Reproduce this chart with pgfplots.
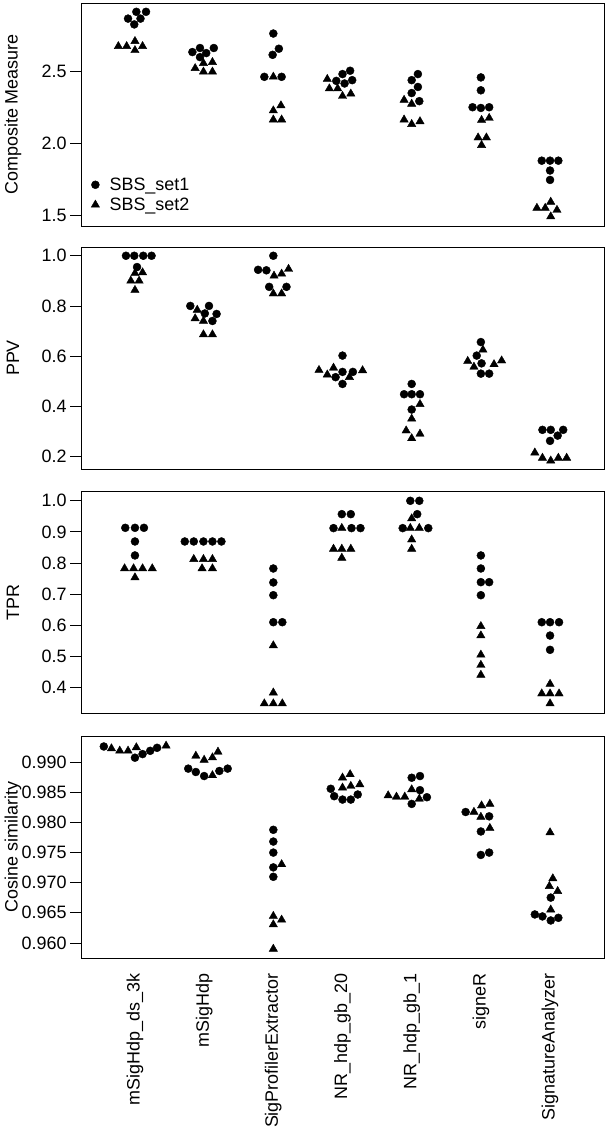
\documentclass[border=0pt]{standalone}
\usepackage{fontspec}
\setmainfont{Liberation Sans}
\usepackage{pgfplots}
\pgfplotsset{compat=1.18}

\pgfplotsset{
  panel/.style={
    scale only axis, width=523bp, height=222bp,
    xmin=0.22, xmax=7.78, xtick=\empty,
    ytick pos=left, tick align=outside, major tick length=11bp,
    axis line style={line width=0.8bp},
    every tick/.style={black, line width=0.8bp},
    tick label style={font=\fontsize{18}{20}\selectfont},
    label style={font=\fontsize{18}{20}\selectfont},
    ylabel style={at={([xshift=-68bp]axis description cs:0,0.5)}, anchor=center},
    yticklabel style={/pgf/number format/fixed, /pgf/number format/fixed zerofill,
      /pgf/number format/precision=1, /pgf/number format/assume math mode=true},
    anchor=south west,
  },
  set1/.style={only marks, mark=*, mark size=4bp, black},
  set2/.style={only marks, mark=triangle*, mark size=4.8bp, black},
}

\begin{document}
\begin{tikzpicture}[x=1bp,y=1bp]
\useasboundingbox (0,0) rectangle (608,1131);

% Composite Measure
\begin{axis}[panel, at={(81bp,905bp)}, height=223bp,
  ymin=1.43, ymax=2.97, ytick={1.5,2,2.5}, ylabel={Composite Measure},
  legend cell align=left,
  legend style={draw=none, fill=none, at={(axis description cs:0,0)}, anchor=south west,
    xshift=6bp, yshift=10bp, font=\fontsize{18}{20}\selectfont, row sep=2bp},
  legend image code/.code={\draw[mark repeat=2,mark phase=2] plot coordinates {(0bp,0bp)(5bp,0bp)(10bp,0bp)}; \path (0bp,0bp) (17bp,0bp);}]
\addplot[set1] coordinates {
(1.16,2.909)(1.02,2.909)(0.90,2.862)(1.08,2.862)(0.99,2.822)
(1.83,2.631)(1.94,2.659)(2.03,2.624)(2.14,2.659)(1.94,2.596)
(3.00,2.759)(3.08,2.654)(2.99,2.612)(2.87,2.460)(3.12,2.460)
(4.00,2.479)(4.11,2.502)(3.91,2.432)(4.03,2.414)(4.14,2.437)
(5.09,2.479)(5.00,2.437)(5.09,2.390)(5.00,2.348)(5.11,2.292)
(6.00,2.456)(6.00,2.367)(5.88,2.250)(6.00,2.245)(6.12,2.250)
(6.88,1.881)(7.00,1.881)(7.12,1.881)(7.00,1.813)(7.00,1.748)};
\addplot[set2] coordinates {
(0.76,2.671)(0.88,2.671)(1.00,2.706)(1.00,2.643)(1.11,2.671)
(1.87,2.519)(1.99,2.554)(2.12,2.561)(1.99,2.495)(2.12,2.495)
(3.00,2.460)(3.11,2.262)(3.00,2.227)(3.00,2.164)(3.12,2.164)
(3.78,2.444)(3.81,2.379)(3.93,2.379)(4.00,2.327)(4.12,2.343)
(4.89,2.300)(5.00,2.273)(4.89,2.164)(5.00,2.133)(5.12,2.152)
(6.01,2.161)(6.12,2.175)(5.96,2.040)(6.08,2.040)(6.01,1.988)
(6.81,1.554)(6.93,1.554)(7.01,1.596)(7.10,1.540)(7.01,1.495)};
\legend{SBS\_set1, SBS\_set2}
\end{axis}

% PPV
\begin{axis}[panel, at={(81bp,662bp)},
  ymin=0.15, ymax=1.035, ytick={0.2,0.4,0.6,0.8,1.0}, ylabel={PPV}]
\addplot[set1] coordinates {
(0.87,1.000)(0.99,1.000)(1.12,1.000)(1.24,1.000)(1.03,0.955)
(1.80,0.800)(2.07,0.800)(2.01,0.770)(2.18,0.768)(2.12,0.740)
(3.00,1.000)(2.78,0.944)(2.90,0.942)(2.94,0.876)(3.19,0.876)
(4.00,0.602)(4.00,0.537)(3.90,0.516)(4.15,0.537)(4.00,0.489)
(5.00,0.489)(4.89,0.448)(5.00,0.448)(5.12,0.448)(5.00,0.387)
(6.00,0.656)(5.94,0.602)(6.01,0.571)(6.00,0.530)(6.12,0.530)
(6.89,0.306)(7.01,0.306)(7.19,0.306)(7.11,0.283)(7.00,0.262)};
\addplot[set2] coordinates {
(1.00,0.930)(0.94,0.900)(1.06,0.900)(1.11,0.933)(1.00,0.863)
(1.90,0.784)(1.87,0.750)(1.99,0.740)(1.99,0.686)(2.12,0.686)
(3.01,0.920)(3.12,0.928)(3.22,0.947)(3.00,0.849)(3.12,0.849)
(3.66,0.544)(3.78,0.526)(3.87,0.553)(4.10,0.516)(4.29,0.543)
(5.12,0.408)(5.00,0.350)(4.92,0.303)(5.00,0.272)(5.12,0.290)
(6.03,0.625)(5.81,0.580)(5.90,0.557)(6.19,0.567)(6.30,0.582)
(6.78,0.215)(6.89,0.194)(7.01,0.183)(7.12,0.194)(7.24,0.194)};
\end{axis}

% TPR
\begin{axis}[panel, at={(81bp,417.5bp)},
  ymin=0.315, ymax=1.03, ytick={0.4,0.5,0.6,0.7,0.8,0.9,1.0}, ylabel={TPR}]
\addplot[set1] coordinates {
(0.86,0.913)(1.00,0.913)(1.13,0.913)(1.00,0.869)(1.00,0.824)
(1.72,0.869)(1.85,0.869)(1.99,0.869)(2.12,0.869)(2.25,0.869)
(3.00,0.782)(3.00,0.737)(3.00,0.696)(3.00,0.609)(3.13,0.609)
(3.99,0.957)(4.12,0.957)(3.87,0.912)(4.13,0.912)(4.26,0.912)
(4.98,1.000)(5.11,1.000)(5.08,0.957)(4.87,0.912)(5.24,0.912)
(6.00,0.824)(6.00,0.782)(6.00,0.738)(6.12,0.738)(6.00,0.696)
(6.88,0.609)(7.00,0.609)(7.13,0.609)(7.00,0.566)(7.00,0.520)};
\addplot[set2] coordinates {
(0.85,0.782)(0.98,0.782)(1.11,0.782)(1.25,0.782)(1.00,0.753)
(1.85,0.812)(1.99,0.812)(2.12,0.812)(1.97,0.782)(2.12,0.782)
(3.00,0.534)(3.00,0.382)(2.87,0.347)(3.00,0.347)(3.13,0.347)
(3.99,0.912)(3.87,0.845)(3.99,0.845)(4.12,0.845)(3.99,0.816)
(5.00,0.943)(4.98,0.912)(5.11,0.912)(5.00,0.875)(5.00,0.845)
(6.00,0.596)(6.00,0.566)(6.00,0.504)(6.00,0.471)(6.00,0.439)
(7.00,0.410)(6.88,0.379)(7.00,0.379)(7.13,0.379)(7.00,0.347)};
\end{axis}

% Cosine similarity
\begin{axis}[panel, at={(81bp,173bp)},
  ymin=0.9575, ymax=0.9943, ytick={0.960,0.965,0.970,0.975,0.980,0.985,0.990},
  yticklabel style={/pgf/number format/precision=3},
  ylabel={Cosine similarity},
  xtick={1,2,3,4,5,6,7}, xtick pos=bottom, xtick style={draw=none},
  xticklabel shift=1bp,
  xticklabels={mSigHdp\_ds\_3k, mSigHdp, SigProfilerExtractor, NR\_hdp\_gb\_20, NR\_hdp\_gb\_1, signeR, SignatureAnalyzer},
  xticklabel style={rotate=90, anchor=east}]
\addplot[set1] coordinates {
(0.55,0.99256)(1.00,0.99070)(1.11,0.99130)(1.22,0.99184)(1.32,0.99234)
(1.77,0.98889)(1.88,0.98833)(2.00,0.98766)(2.22,0.98850)(2.34,0.98889)
(3.00,0.97875)(3.00,0.97680)(3.00,0.97497)(3.00,0.97252)(3.00,0.97096)
(3.83,0.98555)(3.88,0.98432)(4.00,0.98376)(4.12,0.98376)(4.22,0.98460)
(5.00,0.98738)(5.12,0.98766)(5.12,0.98532)(5.00,0.98304)(5.22,0.98415)
(5.78,0.98170)(6.12,0.98098)(6.00,0.97847)(6.00,0.97458)(6.12,0.97497)
(6.78,0.96472)(6.89,0.96439)(7.01,0.96372)(7.12,0.96416)(7.01,0.96751)};
\addplot[set2] coordinates {
(0.66,0.99223)(0.78,0.99184)(0.90,0.99184)(1.02,0.99240)(1.45,0.99267)
(1.88,0.99100)(2.00,0.99033)(2.12,0.99072)(2.20,0.99167)(2.12,0.98777)
(3.12,0.97302)(3.00,0.96444)(3.00,0.96305)(3.12,0.96383)(3.00,0.95900)
(4.00,0.98738)(4.11,0.98794)(4.00,0.98572)(4.12,0.98600)(4.25,0.98627)
(4.66,0.98443)(4.78,0.98421)(4.90,0.98421)(5.00,0.98543)(5.11,0.98388)
(5.90,0.98170)(6.01,0.98276)(6.13,0.98304)(6.00,0.98087)(6.13,0.97903)
(7.00,0.97831)(7.04,0.97068)(6.99,0.96940)(7.11,0.96857)(7.01,0.96550)};
\end{axis}
\end{tikzpicture}
\end{document}
